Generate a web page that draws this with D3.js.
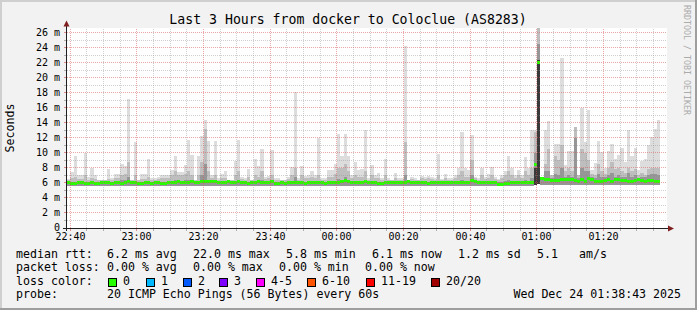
<!DOCTYPE html>
<html>
<head>
<meta charset="utf-8">
<script src="https://cdn.jsdelivr.net/npm/d3@7"></script>
<style>
  body { margin: 0; background: #f2f2f2; overflow: hidden; }
  text { font-family: "DejaVu Sans Mono", monospace; white-space: pre; }
</style>
</head>
<body>
<script>
// Screen dimensions.
const WIDTH = 697;
const HEIGHT = 310;
const PLOT = { left: 67, right: 667, top: 28, bottom: 228 };

// Time span of the graph (one column per minute).
const startTime = new Date(2025, 11, 23, 22, 39, 6);
const endTime = new Date(2025, 11, 24, 1, 39, 6);

// Median rtt per minute (ms).
const medianRtt = [
  6.0, 5.9, 5.9, 6.0, 6.0, 5.9, 5.9, 6.0, 5.9, 5.9,
  6.0, 6.0, 6.0, 5.9, 6.0, 6.0, 5.9, 6.0, 6.1, 6.0,
  6.0, 5.9, 5.9, 6.0, 6.0, 5.9, 6.0, 6.0, 5.9, 5.9,
  6.0, 6.0, 6.0, 6.1, 6.0, 6.0, 6.0, 6.1, 6.0, 6.0,
  6.1, 6.2, 6.1, 6.1, 6.1, 6.0, 6.0, 6.0, 6.1, 6.0,
  6.0, 6.1, 6.0, 6.0, 5.9, 6.0, 6.0, 6.1, 6.0, 6.0,
  6.0, 6.1, 5.9, 5.9, 6.0, 5.9, 6.0, 6.0, 6.0, 6.0,
  6.0, 5.9, 6.0, 6.0, 6.0, 6.0, 6.0, 5.9, 6.0, 6.0,
  6.0, 6.0, 6.1, 6.3, 6.1, 6.0, 6.0, 6.0, 6.0, 6.1,
  6.0, 6.0, 6.0, 5.9, 5.9, 6.0, 6.0, 6.0, 6.0, 6.0,
  6.0, 6.0, 6.1, 6.0, 6.0, 6.0, 6.0, 6.0, 5.9, 6.0,
  6.0, 6.0, 6.0, 6.0, 6.0, 6.0, 6.0, 6.0, 6.0, 6.0,
  6.0, 6.3, 6.1, 6.0, 6.0, 6.0, 6.0, 6.0, 6.0, 5.8,
  5.8, 5.9, 5.9, 6.0, 6.0, 6.0, 6.0, 6.0, 6.0, 6.0,
  8.4, 22.0, 6.5, 6.4, 6.45, 6.3, 6.25, 6.3, 6.35, 6.35,
  6.35, 6.35, 6.3, 6.1, 6.45, 6.15, 6.5, 6.4, 6.1, 6.15,
  6.15, 6.3, 6.4, 6.15, 6.45, 6.35, 6.25, 6.25, 6.15, 6.15,
  6.25, 6.45, 6.3, 6.15, 6.25, 6.25, 6.1, 6.1
];

// Lowest ping per minute (bottom of the smoke).
const pingMin = [
  5.6, 5.6, 5.5, 5.6, 5.6, 5.5, 5.6, 5.6, 5.6, 5.6,
  5.6, 5.6, 5.6, 5.6, 5.5, 5.6, 5.6, 5.6, 5.5, 5.6,
  5.6, 5.6, 5.6, 5.5, 5.6, 5.6, 5.6, 5.6, 5.6, 5.6,
  5.6, 5.6, 5.5, 5.6, 5.6, 5.6, 5.6, 5.6, 5.6, 5.5,
  5.5, 5.6, 5.6, 5.6, 5.5, 5.6, 5.6, 5.6, 5.6, 5.6,
  5.6, 5.6, 5.6, 5.5, 5.6, 5.6, 5.6, 5.6, 5.6, 5.6,
  5.6, 5.6, 5.6, 5.6, 5.6, 5.6, 5.6, 5.6, 5.5, 5.6,
  5.6, 5.6, 5.6, 5.6, 5.6, 5.6, 5.6, 5.6, 5.6, 5.6,
  5.6, 5.6, 5.6, 5.6, 5.6, 5.6, 5.6, 5.6, 5.6, 5.6,
  5.6, 5.6, 5.6, 5.6, 5.6, 5.6, 5.6, 5.6, 5.6, 5.6,
  5.6, 5.5, 5.6, 5.6, 5.6, 5.6, 5.6, 5.6, 5.6, 5.6,
  5.6, 5.6, 5.6, 5.6, 5.6, 5.6, 5.6, 5.6, 5.6, 5.6,
  5.6, 5.6, 5.6, 5.6, 5.6, 5.6, 5.6, 5.6, 5.6, 5.5,
  5.5, 5.6, 5.6, 5.6, 5.6, 5.6, 5.6, 5.6, 5.6, 5.6,
  5.7, 5.8, 5.7, 5.7, 5.7, 5.7, 5.7, 5.7, 5.7, 5.7,
  5.7, 5.7, 5.7, 5.7, 5.7, 5.7, 5.7, 5.7, 5.7, 5.7,
  5.7, 5.7, 5.7, 5.7, 5.7, 5.7, 5.7, 5.7, 5.7, 5.7,
  5.7, 5.7, 5.7, 5.7, 5.7, 5.7, 5.7, 5.7
];

// Highest ping per minute (top of the light smoke).
const pingMax = [
  6.5, 7.4, 9.5, 7.0, 7.0, 10.0, 6.8, 8.0, 7.0, 6.4,
  6.4, 6.4, 7.8, 6.6, 7.1, 7.1, 8.5, 8.2, 17.2, 6.4,
  11.4, 6.4, 7.2, 7.2, 9.2, 6.6, 6.6, 6.8, 7.0, 7.0,
  7.0, 7.7, 9.5, 7.4, 7.4, 8.4, 11.7, 9.7, 6.4, 9.5,
  12.2, 14.4, 11.6, 7.0, 11.5, 6.6, 7.2, 7.6, 6.2, 6.4,
  8.9, 11.7, 6.8, 6.6, 7.8, 6.4, 9.1, 8.2, 10.5, 6.8,
  6.9, 10.3, 6.6, 6.6, 6.4, 6.4, 6.7, 8.1, 18.1, 6.6,
  8.2, 6.9, 7.0, 7.6, 7.0, 12.0, 6.6, 6.6, 7.7, 7.7,
  8.5, 12.5, 9.5, 12.5, 9.5, 7.0, 8.7, 7.7, 7.8, 13.0,
  6.6, 8.4, 7.0, 7.3, 6.6, 9.2, 6.6, 6.4, 7.3, 6.6,
  6.6, 24.2, 6.4, 6.8, 6.6, 6.4, 6.9, 6.7, 6.9, 6.8,
  6.6, 9.8, 6.5, 7.1, 6.6, 6.6, 7.0, 7.9, 12.8, 7.9,
  7.7, 12.3, 6.8, 6.6, 8.0, 6.8, 7.2, 8.1, 6.8, 6.5,
  7.0, 7.5, 9.5, 7.9, 7.0, 7.7, 7.0, 9.4, 7.9, 13.0,
  13.0, 27.0, 6.6, 13.0, 14.2, 7.0, 11.2, 11.2, 22.6, 8.4,
  10.2, 10.2, 13.4, 7.0, 16.0, 11.4, 15.7, 7.7, 8.6, 11.5,
  10.1, 7.9, 10.2, 11.1, 9.2, 9.7, 10.6, 8.8, 13.0, 9.5,
  10.6, 7.7, 8.9, 9.2, 11.0, 12.1, 13.2, 14.4
];

// Top of the medium smoke band per minute.
const pingHigh = [
  6.4, 6.6, 6.8, 6.5, 6.5, 7.0, 6.4, 6.6, 6.5, 6.3,
  6.3, 6.3, 6.5, 6.4, 6.6, 6.6, 7.0, 7.2, 8.8, 6.3,
  7.0, 6.3, 6.5, 6.5, 6.8, 6.4, 6.4, 6.5, 6.6, 6.6,
  6.6, 7.0, 7.5, 7.0, 7.0, 7.2, 7.5, 7.0, 6.3, 7.0,
  8.8, 13.2, 7.5, 6.6, 7.0, 6.4, 6.6, 6.6, 6.2, 6.3,
  7.0, 7.5, 6.5, 6.4, 6.8, 6.3, 7.0, 6.8, 7.5, 6.5,
  6.6, 7.0, 6.4, 6.4, 6.3, 6.3, 6.5, 7.0, 8.0, 6.4,
  7.0, 6.6, 6.6, 6.8, 6.6, 7.0, 6.4, 6.4, 6.8, 6.8,
  7.2, 8.0, 8.0, 8.5, 7.5, 6.6, 7.0, 6.8, 6.8, 7.5,
  6.4, 7.0, 6.6, 6.6, 6.4, 7.0, 6.4, 6.3, 6.6, 6.4,
  6.4, 11.4, 6.3, 6.5, 6.4, 6.3, 6.6, 6.5, 6.6, 6.5,
  6.4, 7.0, 6.4, 6.6, 6.4, 6.4, 6.6, 7.0, 7.5, 6.8,
  6.8, 9.0, 6.6, 6.4, 7.0, 6.5, 6.6, 7.0, 6.5, 6.3,
  6.6, 7.0, 7.5, 7.0, 6.6, 7.0, 6.6, 7.5, 7.0, 8.0,
  12.8, 27.0, 6.8, 8.5, 10.5, 7.0, 9.5, 9.0, 11.0, 7.5,
  8.0, 7.5, 13.4, 7.0, 10.5, 10.0, 9.0, 7.2, 7.0, 8.5,
  7.5, 7.2, 8.0, 8.8, 7.8, 8.0, 7.5, 7.3, 8.0, 7.5,
  7.8, 7.0, 7.3, 7.0, 7.8, 8.0, 8.0, 8.0
];

// Top of the dark smoke band per minute.
const pingMid = [
  6.1, 6.1, 6.1, 6.1, 6.1, 6.1, 6.1, 6.1, 6.1, 6.1,
  6.1, 6.1, 6.1, 6.1, 6.1, 6.1, 6.3, 6.3, 6.8, 6.1,
  6.2, 6.1, 6.1, 6.1, 6.2, 6.1, 6.1, 6.1, 6.1, 6.1,
  6.1, 6.2, 6.4, 6.2, 6.2, 6.3, 6.4, 6.2, 6.1, 6.2,
  7.0, 8.5, 6.4, 6.1, 6.2, 6.1, 6.1, 6.1, 6.1, 6.1,
  6.2, 6.4, 6.1, 6.1, 6.1, 6.1, 6.2, 6.2, 6.3, 6.1,
  6.1, 6.2, 6.1, 6.1, 6.1, 6.1, 6.1, 6.2, 6.8, 6.1,
  6.2, 6.1, 6.1, 6.1, 6.1, 6.2, 6.1, 6.1, 6.1, 6.1,
  6.2, 6.5, 6.4, 6.8, 6.4, 6.1, 6.2, 6.1, 6.1, 6.3,
  6.1, 6.2, 6.1, 6.1, 6.1, 6.2, 6.1, 6.1, 6.1, 6.1,
  6.1, 7.0, 6.1, 6.1, 6.1, 6.1, 6.1, 6.1, 6.1, 6.1,
  6.1, 6.2, 6.1, 6.1, 6.1, 6.1, 6.1, 6.2, 6.4, 6.2,
  6.2, 7.0, 6.2, 6.1, 6.2, 6.1, 6.1, 6.2, 6.1, 6.1,
  6.1, 6.2, 6.4, 6.2, 6.1, 6.2, 6.1, 6.4, 6.2, 6.6,
  10.0, 24.5, 6.6, 7.5, 7.5, 6.6, 7.2, 7.0, 8.0, 6.8,
  7.0, 6.8, 12.0, 6.6, 8.0, 7.5, 7.5, 6.8, 6.6, 7.2,
  6.8, 6.7, 7.0, 7.3, 6.8, 7.0, 6.8, 6.7, 7.3, 6.8,
  7.0, 6.6, 6.8, 6.7, 7.0, 7.2, 7.2, 7.0
];

// Darkest core of the smoke: [minute column, top value].
const pingCore = [[140, 8.0], [141, 22.4]];

// Axis ticks.
const yTickValues = [0, 2, 4, 6, 8, 10, 12, 14, 16, 18, 20, 22, 24, 26];

// Legend.
const titleText = "Last 3 Hours from docker to Coloclue (AS8283)";
const rttItems = ["6.2 ms avg", "22.0 ms max", "5.8 ms min", "6.1 ms now", "1.2 ms sd", "5.1", "am/s"];
const lossItems = ["0.00 % avg", "0.00 % max", "0.00 % min", "0.00 % now"];
const lossLabels = ["0", "1", "2", "3", "4-5", "6-10", "11-19", "20/20"];
const lossColors = ["#26ff00", "#00b8ff", "#0059ff", "#7e00ff", "#ff00ff", "#ff5500", "#ff0000", "#a10000"];
const probeText = "20 ICMP Echo Pings (56 Bytes) every 60s";
const dateText = "Wed Dec 24 01:38:43 2025";

// Legend layout (x positions).
const rttX = [107, 193, 286, 372, 458, 537, 579];
const lossX = [107, 193, 279, 365];
const swatchX = [108, 146, 183, 219, 256, 307, 366, 431];

// Scales.
const x = d3.scaleTime().domain([startTime, endTime]).range([PLOT.left, PLOT.right]);
const y = d3.scaleLinear().domain([0, 26.6]).range([227.6, 28.1]);
const px = v => Math.floor(v) + 0.5;

const colX = i => x(d3.timeMinute.offset(startTime, i));
const colW = i => colX(i + 1) - colX(i);

// SVG
const svg = d3.select("body").append("svg").attr("width", WIDTH).attr("height", HEIGHT);

svg.append("rect").attr("width", WIDTH).attr("height", HEIGHT).attr("fill", "#f2f2f2");
svg.append("rect").attr("width", WIDTH).attr("height", 2).attr("fill", "#cfcfcf");
svg.append("rect").attr("width", 2).attr("height", HEIGHT).attr("fill", "#cfcfcf");
svg.append("rect").attr("y", HEIGHT - 2).attr("width", WIDTH).attr("height", 2).attr("fill", "#9e9e9e");
svg.append("rect").attr("x", WIDTH - 2).attr("width", 2).attr("height", HEIGHT).attr("fill", "#9e9e9e");

svg.append("rect")
  .attr("x", PLOT.left).attr("y", PLOT.top)
  .attr("width", PLOT.right - PLOT.left).attr("height", PLOT.bottom - PLOT.top)
  .attr("fill", "#ffffff");

svg.append("clipPath").attr("id", "plotclip").append("rect")
  .attr("x", PLOT.left).attr("y", PLOT.top)
  .attr("width", PLOT.right - PLOT.left).attr("height", PLOT.bottom - PLOT.top);

// Smoke
const smoke = svg.append("g").attr("clip-path", "url(#plotclip)").attr("shape-rendering", "crispEdges");
const layers = [
  { vals: pingMax, fill: "#dddddd" },
  { vals: pingHigh, fill: "#bebebe" },
  { vals: pingMid, fill: "#969696" }
];
layers.forEach(layer => {
  smoke.append("g").selectAll("rect").data(layer.vals).join("rect")
    .attr("x", (d, i) => colX(i))
    .attr("width", (d, i) => colW(i))
    .attr("y", d => y(d))
    .attr("height", (d, i) => Math.max(0, y(pingMin[i]) - y(d)))
    .attr("fill", layer.fill);
});
smoke.append("g").selectAll("rect").data(pingCore).join("rect")
  .attr("x", d => colX(d[0]))
  .attr("width", d => colW(d[0]))
  .attr("y", d => y(d[1]))
  .attr("height", d => Math.max(0, y(pingMin[d[0]]) - y(d[1])))
  .attr("fill", "#3a3a3a");

// Median, coloured by loss (no loss: green)
smoke.append("g").selectAll("rect").data(medianRtt).join("rect")
  .attr("x", (d, i) => colX(i))
  .attr("width", (d, i) => colW(i))
  .attr("y", d => y(d) - 1.5)
  .attr("height", 3)
  .attr("fill", lossColors[0]);

// Grid
const minorT = x.ticks(d3.timeMinute.every(5)).filter(t => t.getMinutes() % 20 !== 0);
const majorT = x.ticks(d3.timeMinute.every(20));
const minorV = d3.range(1, 27, 2);
const majorV = yTickValues.filter(v => v > 0);
const MINOR = "rgba(143,143,143,0.42)";
const MAJOR = "rgba(222,79,79,0.5)";

const grid = svg.append("g").attr("stroke-width", 1).attr("stroke-dasharray", "1,1");
grid.selectAll(".hminor").data(minorV).join("line")
  .attr("x1", PLOT.left).attr("x2", PLOT.right)
  .attr("y1", d => px(y(d))).attr("y2", d => px(y(d)))
  .attr("stroke", MINOR);
grid.selectAll(".vminor").data(minorT).join("line")
  .attr("x1", d => px(x(d))).attr("x2", d => px(x(d)))
  .attr("y1", PLOT.bottom).attr("y2", PLOT.top)
  .attr("stroke", MINOR);
grid.selectAll(".hmajor").data(majorV).join("line")
  .attr("x1", PLOT.left).attr("x2", PLOT.right)
  .attr("y1", d => px(y(d))).attr("y2", d => px(y(d)))
  .attr("stroke", MAJOR);
grid.selectAll(".vmajor").data(majorT).join("line")
  .attr("x1", d => px(x(d))).attr("x2", d => px(x(d)))
  .attr("y1", PLOT.bottom).attr("y2", PLOT.top)
  .attr("stroke", MAJOR);

// Axis ticks
const ticks = svg.append("g").attr("stroke-width", 1);
ticks.selectAll(".tx").data(minorT).join("line")
  .attr("x1", d => px(x(d))).attr("x2", d => px(x(d)))
  .attr("y1", PLOT.bottom).attr("y2", PLOT.bottom + 3).attr("stroke", "#b0b0b0");
ticks.selectAll(".tX").data(majorT).join("line")
  .attr("x1", d => px(x(d))).attr("x2", d => px(x(d)))
  .attr("y1", PLOT.bottom).attr("y2", PLOT.bottom + 3).attr("stroke", "#e08a8a");
ticks.selectAll(".ty").data(minorV).join("line")
  .attr("x1", PLOT.left - 3).attr("x2", PLOT.left)
  .attr("y1", d => px(y(d))).attr("y2", d => px(y(d))).attr("stroke", "#b0b0b0");
ticks.selectAll(".tY").data(majorV).join("line")
  .attr("x1", PLOT.left - 3).attr("x2", PLOT.left)
  .attr("y1", d => px(y(d))).attr("y2", d => px(y(d))).attr("stroke", "#e08a8a");

// Axes and arrows
svg.append("line").attr("x1", 63).attr("x2", 668).attr("y1", 228.5).attr("y2", 228.5)
  .attr("stroke", "#1f1f1f");
svg.append("line").attr("x1", 66.5).attr("x2", 66.5).attr("y1", 231).attr("y2", 26)
  .attr("stroke", "#1f1f1f");
svg.append("path").attr("d", "M63.5,26.5L69.5,26.5L66.5,20.5Z").attr("fill", "#801f1f");
svg.append("path").attr("d", "M668,225.5L668,231.5L674,228.5Z").attr("fill", "#801f1f");

// Tick labels
svg.append("g").selectAll("text").data(yTickValues).join("text")
  .attr("x", 60).attr("y", d => px(y(d)) + 3.3)
  .attr("text-anchor", "end").attr("font-size", "10px").attr("fill", "#000")
  .text(d => d === 0 ? "0" : d + " m");
svg.append("g").selectAll("text").data(majorT).join("text")
  .attr("x", d => px(x(d))).attr("y", 240.3)
  .attr("text-anchor", "middle").attr("font-size", "10px").attr("fill", "#000")
  .text(d3.timeFormat("%H:%M"));

// Title, vertical label, watermark
svg.append("text").attr("x", 348).attr("y", 24).attr("text-anchor", "middle")
  .attr("font-size", "13.2px").attr("fill", "#000").text(titleText);
svg.append("text").attr("transform", "translate(14," + ((PLOT.top + PLOT.bottom) / 2) + ") rotate(-90)")
  .attr("text-anchor", "middle").attr("font-size", "11.6px").attr("fill", "#000").text("Seconds");
svg.append("text").attr("transform", "translate(684,5) rotate(90)")
  .attr("font-size", "8.3px").attr("fill", "#ababab").text("RRDTOOL / TOBI OETIKER");

// Legend
const legend = svg.append("g").attr("font-size", "11.6px").attr("fill", "#000");
const rows = [257.5, 271, 284.5, 298];
legend.append("text").attr("x", 16).attr("y", rows[0]).text("median rtt:");
legend.append("g").selectAll("text").data(rttItems).join("text")
  .attr("x", (d, i) => rttX[i]).attr("y", rows[0]).text(d => d);
legend.append("text").attr("x", 16).attr("y", rows[1]).text("packet loss:");
legend.append("g").selectAll("text").data(lossItems).join("text")
  .attr("x", (d, i) => lossX[i]).attr("y", rows[1]).text(d => d);
legend.append("text").attr("x", 16).attr("y", rows[2]).text("loss color:");
legend.append("g").selectAll("rect").data(lossColors).join("rect")
  .attr("x", (d, i) => swatchX[i] + 0.5).attr("y", 278.5)
  .attr("width", 8).attr("height", 8)
  .attr("fill", d => d).attr("stroke", "#000").attr("stroke-width", 1);
legend.append("g").selectAll("text").data(lossLabels).join("text")
  .attr("x", (d, i) => swatchX[i] + 15).attr("y", rows[2]).text(d => d);
legend.append("text").attr("x", 16).attr("y", rows[3]).text("probe:");
legend.append("text").attr("x", 107).attr("y", rows[3]).text(probeText);
legend.append("text").attr("x", 681).attr("y", rows[3]).attr("text-anchor", "end").text(dateText);
</script>
</body>
</html>
